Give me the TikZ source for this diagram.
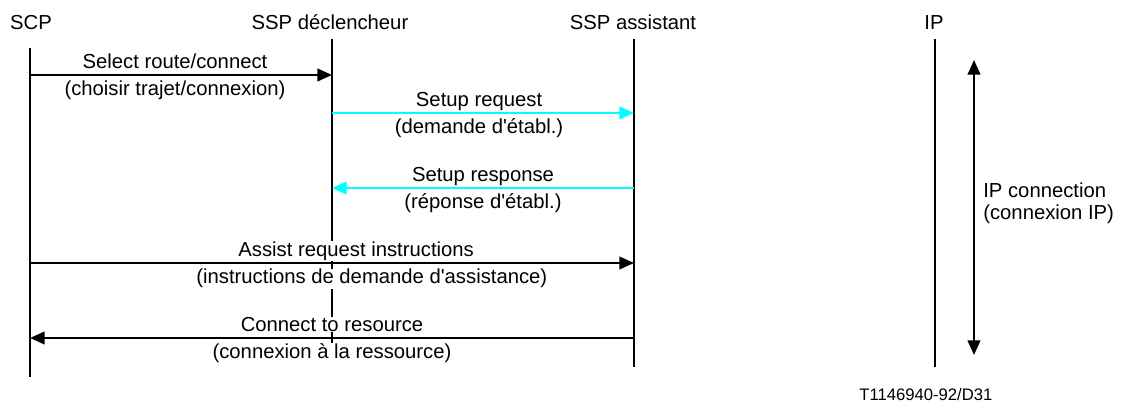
\documentclass[tikz,border=0pt]{standalone}
\usepackage{fontspec}
\setmainfont{Liberation Sans}
\usepackage{tikz}
\usetikzlibrary{arrows.meta, positioning}
\definecolor{setupcyan}{RGB}{0,255,255}

\begin{document}
\begin{tikzpicture}[x=0.75pt, y=-0.75pt, line width=1.5pt,
  every node/.style={font=\fontsize{15.2}{18}\selectfont, inner sep=1pt},
  msg/.style={-{Triangle[length=11pt, width=9.5pt]}},
  above msg/.style={anchor=base, fill=white, inner ysep=0.5pt, yshift=4.8pt},
  below msg/.style={anchor=base, fill=white, inner ysep=0.5pt, yshift=-15.75pt}]
  \useasboundingbox (0,0) rectangle (1122,409);

  % entities
  \node[anchor=base] (scp) at (31,30)  {SCP};
  \node[anchor=base] (dec) at (330,30) {SSP déclencheur};
  \node[anchor=base] (ast) at (633,30) {SSP assistant};
  \node[anchor=base] (ip)  at (934,30) {IP};

  % lifelines
  \coordinate (scp top) at (30,48);   \coordinate (scp bot) at (30,377);
  \coordinate (dec top) at (332,39);  \coordinate (dec bot) at (332,352);
  \coordinate (ast top) at (634,39);  \coordinate (ast bot) at (634,367);
  \coordinate (ip top)  at (935,39);  \coordinate (ip bot)  at (935,367);
  \draw (scp top) -- (scp bot);
  \draw (dec top) -- (dec bot);
  \draw (ast top) -- (ast bot);
  \draw (ip top) -- (ip bot);

  % message ends
  \coordinate (scp1) at (30,75);   \coordinate (dec1) at (332,75);
  \coordinate (dec2) at (332,113); \coordinate (ast2) at (634,113);
  \coordinate (dec3) at (332,188); \coordinate (ast3) at (634,188);
  \coordinate (scp4) at (30,263);  \coordinate (ast4) at (634,263);
  \coordinate (scp5) at (30,338);  \coordinate (ast5) at (634,338);

  % messages
  \draw[msg] (scp1) -- node[pos=.48, above msg]{Select route/connect}
                       node[pos=.48, below msg]{(choisir trajet/connexion)} (dec1);
  \draw[msg, setupcyan] (dec2) -- node[pos=.487, above msg, text=black]{Setup request}
                       node[pos=.487, below msg, text=black]{(demande d\textquotesingle établ.)} (ast2);
  \draw[msg, setupcyan] (ast3) -- node[pos=.5, above msg, text=black]{Setup response}
                       node[pos=.5, below msg, text=black]{(réponse d\textquotesingle établ.)} (dec3);
  \draw[msg] (scp4) -- node[pos=.54, above msg]{Assist request instructions}
                       node[pos=.566, below msg]{(instructions de demande d\textquotesingle assistance)} (ast4);
  \draw[msg] (ast5) -- node[pos=.5, above msg]{Connect to resource}
                       node[pos=.5, below msg]{(connexion à la ressource)} (scp5);

  % IP connection span
  \coordinate (span top) at (974,60);
  \coordinate (span bot) at (974,355);
  \draw[{Triangle[length=11pt, width=9.5pt]}-{Triangle[length=11pt, width=9.5pt]}] (span top) -- (span bot);
  \node[anchor=west, align=left, font=\fontsize{15.2}{16.5}\selectfont] (span) at (981,203)
    {IP connection\\(connexion IP)};

  \node[anchor=base west, font=\fontsize{12.5}{15}\selectfont] (ref) at (857,401) {T1146940-92/D31};
\end{tikzpicture}
\end{document}
